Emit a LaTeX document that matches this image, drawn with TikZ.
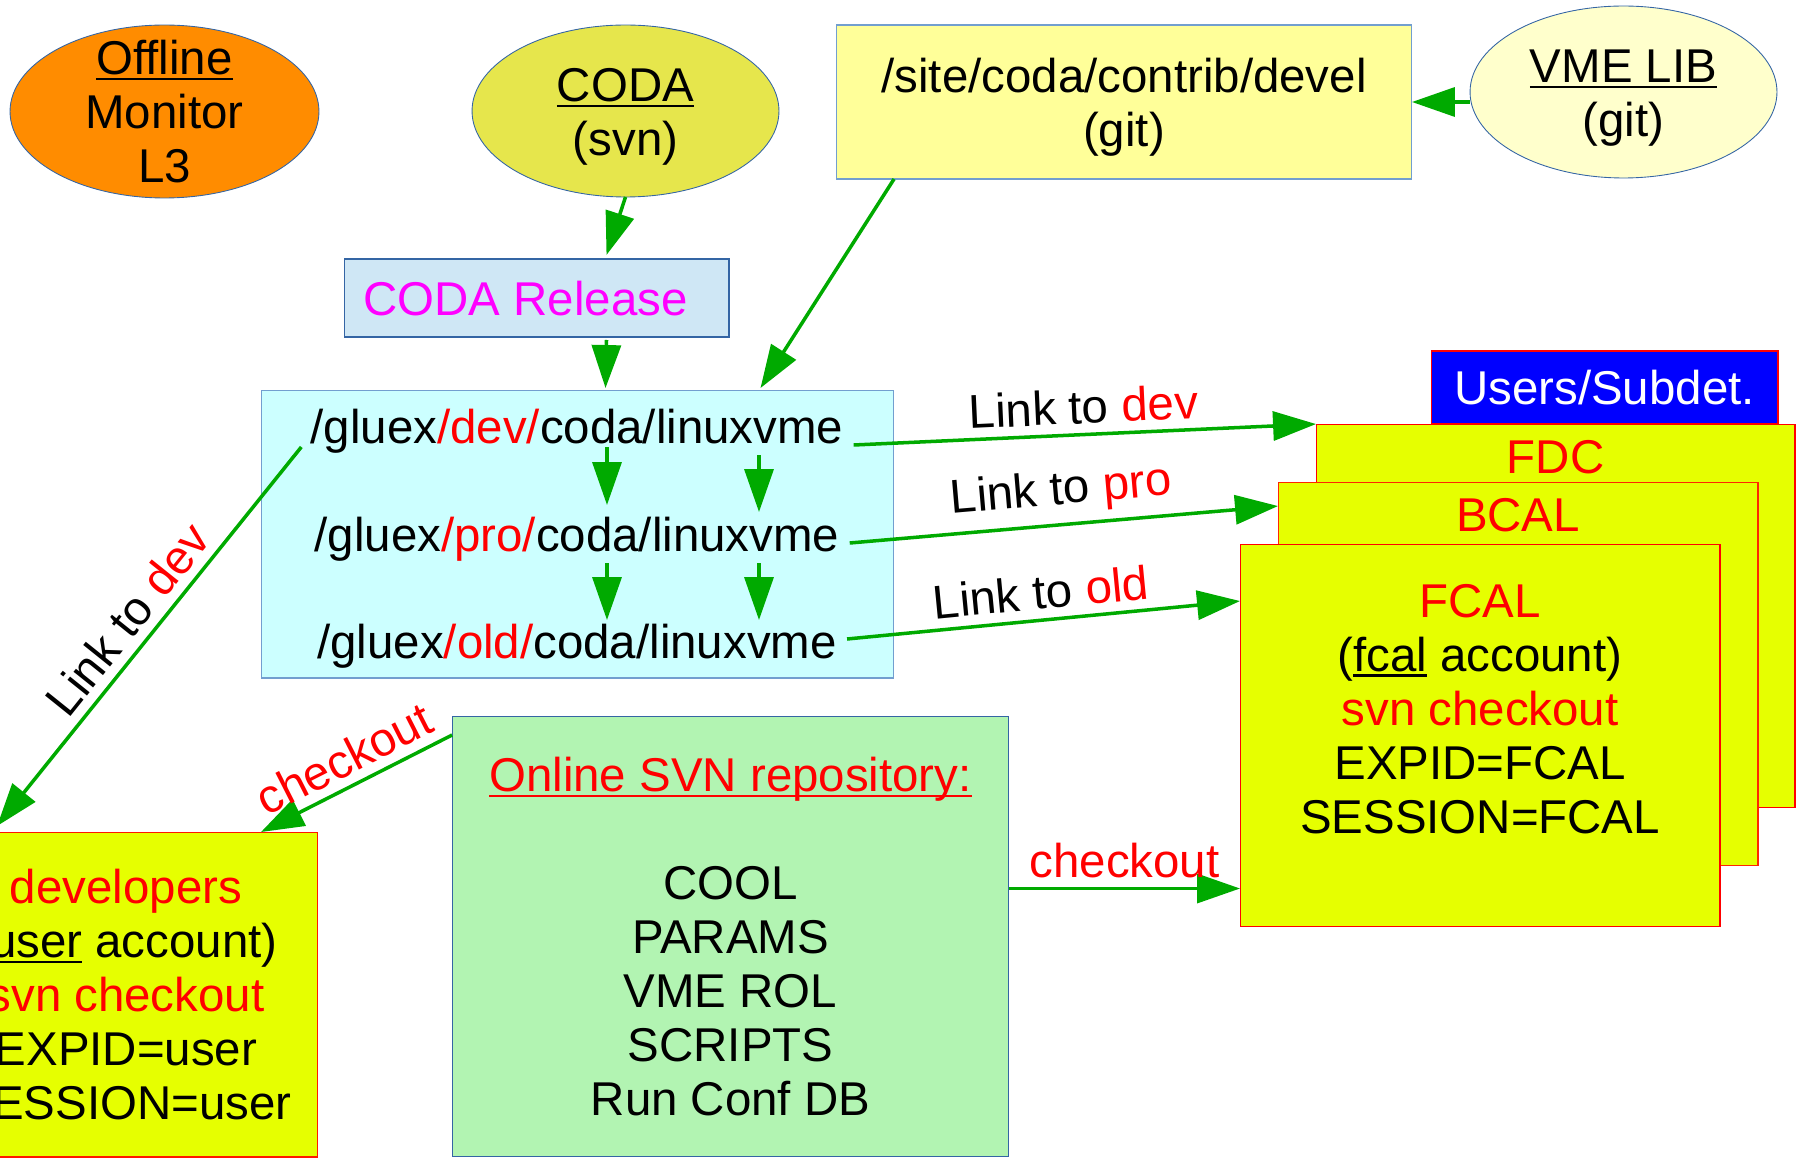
\documentclass[tikz,border=0pt]{standalone}
\usepackage{fontspec}
\setmainfont{Liberation Sans}
\usepackage{tikz}
\usetikzlibrary{positioning, calc}
\usetikzlibrary{shapes.geometric}
\usetikzlibrary{arrows.meta}

\definecolor{offorange}{HTML}{FF8C00}
\definecolor{codayel}{HTML}{E6E64C}
\definecolor{siteyel}{HTML}{FFFF99}
\definecolor{vmeyel}{HTML}{FFFFCC}
\definecolor{relblue}{HTML}{CFE7F5}
\definecolor{relpink}{HTML}{FF00FF}
\definecolor{glxcyan}{HTML}{CCFFFF}
\definecolor{svngreen}{HTML}{B2F4B2}
\definecolor{detyel}{HTML}{E6FF00}
\definecolor{usrblue}{HTML}{0000FF}
\definecolor{arrgreen}{HTML}{00AA00}
\definecolor{edgeblue}{HTML}{3465A4}
\definecolor{lightedge}{HTML}{729FCF}

\newcommand{\uln}[1]{\setbox0\hbox{#1}\rlap{\rule[-0.12em]{\wd0}{0.055em}}\box0\relax}

\tikzset{
    every node/.append style={font=\fontsize{27}{30.7}\selectfont},
    txt/.style={align=center, inner sep=0pt},
    ell/.style={ellipse, draw=edgeblue, line width=0.5pt, align=center, inner sep=0pt, outer sep=0pt},
    box/.style={rectangle, draw=lightedge, line width=0.6pt, align=center, inner sep=0pt, outer sep=0pt},
    det/.style={rectangle, draw=red, fill=detyel, line width=0.6pt, align=center, inner sep=0pt, outer sep=0pt},
    arr/.style={draw=arrgreen, line width=2pt, -{Triangle[length=0.86cm,width=0.58cm]}},
    lbl/.style={sloped, above, inner sep=5pt}
}

\begin{document}
\begin{tikzpicture}[x=0.02cm, y=-0.02cm]
    \useasboundingbox (0,0) rectangle (1797,1158);
    \clip (0,0) rectangle (1797,1158);

    \node[ell, fill=offorange, minimum width=6.18cm, minimum height=3.46cm] (off) at (164.5,111.5) {};
    \node[txt] (offt) at (off) {\uln{Offline}\\Monitor\\L3};
    \node[ell, fill=codayel, minimum width=6.14cm, minimum height=3.44cm] (coda) at (625.5,111) {};
    \node[txt] (codat) at ($(coda)+(0,6)$) {\uln{CODA}\\(svn)};
    \node[box, fill=siteyel, minimum width=11.52cm, minimum height=3.08cm] (site) at (1124,102) {};
    \node[txt] (sitet) at ($(site)+(0,5)$) {/site/coda/contrib/devel\\(git)};
    \node[ell, fill=vmeyel, minimum width=6.14cm, minimum height=3.44cm] (vme) at (1623.5,92) {};
    \node[txt] (vmet) at ($(vme)+(0,6)$) {\uln{VME LIB}\\(git)};
    \node[box, draw=edgeblue, fill=relblue, minimum width=7.7cm, minimum height=1.56cm] (rel) at (536.5,298) {};
    \node[txt, text=relpink] (relt) at ($(rel)+(-11,1)$) {CODA Release};

    \node[box, fill=glxcyan, minimum width=12.66cm, minimum height=5.76cm] (glx) at (577.5,534) {};
    \node[txt] (dev) at (577,431) {/gluex\textcolor{red}{/dev/}coda/linuxvme};
    \node[txt] (pro) at (577,539) {/gluex\textcolor{red}{/pro/}coda/linuxvme};
    \node[txt] (old) at (577,646) {/gluex\textcolor{red}{/old/}coda/linuxvme};

    \node[det, minimum width=9.58cm, minimum height=7.68cm] (fdc) at (1555.5,616) {};
    \node[txt, text=red, anchor=north] (fdct) at ($(fdc.north)+(0,16)$) {FDC};
    \node[det, draw=red!70!orange, minimum width=9.6cm, minimum height=7.68cm] (bcal) at (1518,674) {};
    \node[txt, text=red, anchor=north] (bcalt) at ($(bcal.north)+(0,16)$) {BCAL};
    \node[det, minimum width=9.6cm, minimum height=7.66cm] (fcal) at (1480,735.5) {};
    \node[txt] (fcalt) at (1480,709) {\textcolor{red}{FCAL}\\(\uln{fcal} account)\\\textcolor{red}{svn checkout}\\EXPID=FCAL\\SESSION=FCAL};
    \node[det, fill=usrblue, text=white, minimum width=6.94cm, minimum height=1.46cm] (usr) at (1604.5,387.5) {Users/Subdet.};

    \node[box, draw=edgeblue, fill=svngreen, minimum width=11.14cm, minimum height=8.82cm] (svn) at (730.5,936.5)
        {\textcolor{red}{\uln{Online SVN repository:}}\\ \\COOL\\PARAMS\\VME ROL\\SCRIPTS\\Run Conf DB};
    \node[det, draw=red!80!orange, minimum width=7.68cm, minimum height=6.5cm] (dvl) at (126,994.5)
        {\textcolor{red}{developers}\\(\uln{user} account)\\\textcolor{red}{svn checkout}\\EXPID=user\\SESSION=user};

    \draw[arr] (coda.south) -- ($(rel.north)+(70,-4)$);
    \draw[arr] ($(rel.south)+(70,3)$) -- ($(glx.north)+(28,-2)$);
    \draw[arr] ($(site.south west)+(58,0)$) -- ($(glx.north)+(183,-2)$);
    \draw[arr] (vme.west |- site.east) -- (site.east);

    \draw[arr] ($(dev)+(30,16)$) -- ($(pro)+(30,-34)$);
    \draw[arr] ($(dev)+(182,24)$) -- ($(pro)+(182,-27)$);
    \draw[arr] ($(pro)+(30,24)$) -- ($(old)+(30,-26)$);
    \draw[arr] ($(pro)+(182,24)$) -- ($(old)+(182,-26)$);

    \draw[arr] ($(dev.east)+(10,14)$) -- node[lbl] {Link to \textcolor{red}{dev}} (fdc.north west);
    \draw[arr] ($(pro.east)+(10,4)$) -- node[lbl] {Link to \textcolor{red}{pro}} ($(bcal.north west)+(0,24)$);
    \draw[arr] ($(old.east)+(10,-7)$) -- node[lbl] {Link to \textcolor{red}{old}} ($(fcal.north west)+(0,57)$);
    \draw[arr] ($(dev.west)+(-9,16)$) -- node[lbl] {Link to \textcolor{red}{dev}} ($(dvl.north west)+(63,-6)$);

    \draw[arr] ($(svn.north west)+(0,19)$) -- node[lbl, text=red] {checkout} ($(dvl.north east)+(-57,0)$);
    \coordinate (co) at ($(svn.east)+(0,-48)$);
    \draw[arr] (co) -- node[lbl, text=red] {checkout} (co -| fcal.west);
\end{tikzpicture}
\end{document}
